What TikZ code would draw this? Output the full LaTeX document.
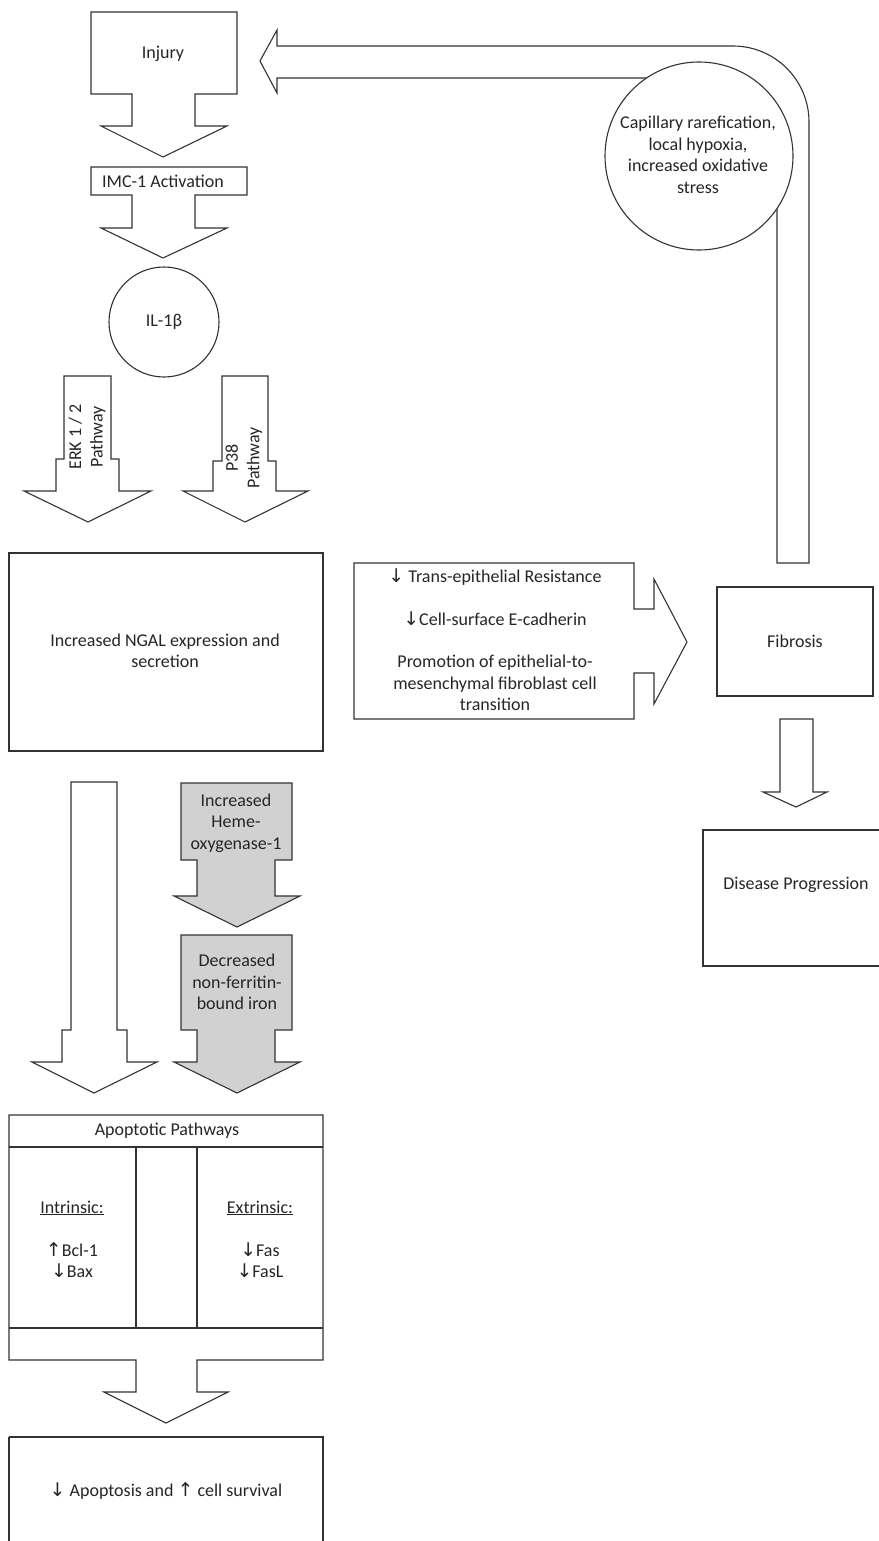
\documentclass[tikz,border=0pt]{standalone}
\usepackage{fontspec}
\setmainfont{Carlito}
\newfontfamily\symfont[Scale=1.05]{DejaVu Sans}
\newcommand{\dnarr}{{\symfont ↓}}
\newcommand{\uparr}{{\symfont ↑}}

\tikzset{
  blk/.style={draw=black!80, line width=1.1pt, line join=miter, fill=white},
  grayblk/.style={blk, fill=black!18},
  lbl/.style={font=\fontsize{18}{21.5}\selectfont, text=black!85, align=center, inner sep=0pt},
}

\begin{document}
\begin{tikzpicture}[x=1pt, y=-1pt]
\useasboundingbox (0,0) rectangle (878,1541);
\fill[white] (0,0) rectangle (878,1541);

% ---- feedback arrow bending from the right column back to Injury
\draw[blk] (260,61) -- (277,30) -- (277,46) -- (733,46)
  arc[start angle=-90, end angle=0, radius=76] -- (809,563) -- (777,563) -- (777,122)
  arc[start angle=0, end angle=-90, radius=44] -- (277,78) -- (277,93) -- cycle;
\draw[blk] (699,156) circle[radius=94];
\node[lbl] (capillary) at (698,155) {Capillary rarefication,\\local hypoxia,\\increased oxidative\\stress};

% ---- Injury callout
\draw[blk] (91,12) -- (237,12) -- (237,94) -- (195,94) -- (195,126) -- (227,126) -- (163,157)
  -- (101,126) -- (132,126) -- (132,94) -- (91,94) -- cycle;
\node[lbl] (injury) at (163,54) {Injury};

% ---- IMC-1 Activation callout
\draw[blk] (91,167) -- (247,167) -- (247,195) -- (195,195) -- (195,228) -- (227,228) -- (163,258)
  -- (101,228) -- (132,228) -- (132,195) -- (91,195) -- cycle;
\node[lbl] (imc) at (163,181) {IMC-1 Activation};

% ---- IL-1 beta
\draw[blk] (164,322) circle[radius=55];
\node[lbl] (il1b) at (164,322) {IL-1β};

% ---- ERK 1/2 pathway arrow
\draw[blk] (64,376) -- (111,376) -- (111,459) -- (119,459) -- (119,491) -- (151,491) -- (88,522)
  -- (24,491) -- (56,491) -- (56,459) -- (64,459) -- cycle;
\node[lbl, rotate=90] (erk) at (87,437) {ERK 1 / 2\\Pathway};

% ---- P38 pathway arrow
\draw[blk] (222,376) -- (268,376) -- (268,461) -- (276,461) -- (276,491) -- (308,491) -- (245,522)
  -- (183,491) -- (213,491) -- (213,461) -- (222,461) -- cycle;
\node[lbl, rotate=90] (p38) at (244,458) {P38\\Pathway};

% ---- NGAL box
\draw[blk] (9,553) rectangle (323,751);
\node[lbl] (ngal) at (165,651) {Increased NGAL expression and\\secretion};

% ---- effects callout pointing to Fibrosis
\draw[blk] (354,563) -- (634,563) -- (634,609) -- (654,609) -- (654,579) -- (687,642)
  -- (654,704) -- (654,673) -- (634,673) -- (634,719) -- (354,719) -- cycle;
\node[lbl] (ter) at (495,577) {\dnarr\ Trans-epithelial Resistance};
\node[lbl] (ecad) at (495,619) {\dnarr Cell-surface E-cadherin};
\node[lbl] (emt) at (495,683) {Promotion of epithelial-to-\\mesenchymal fibroblast cell\\transition};

% ---- Fibrosis and Disease Progression
\draw[blk] (717,587) rectangle (873,696);
\node[lbl] (fibrosis) at (795,641) {Fibrosis};
\draw[blk] (780,719) -- (813,719) -- (813,792) -- (827,792) -- (796,807) -- (763,792)
  -- (780,792) -- cycle;
\draw[blk] (703,830) rectangle (895,966);
\node[lbl] (progression) at (796,885) {Disease Progression};

% ---- long arrow from NGAL to the apoptotic pathways
\draw[blk] (71,782) -- (117,782) -- (117,1030) -- (127,1030) -- (127,1062) -- (157,1062) -- (94,1093)
  -- (32,1062) -- (62,1062) -- (62,1030) -- (71,1030) -- cycle;

% ---- grey iron branch
\draw[grayblk] (181,783) -- (292,783) -- (292,860) -- (275,860) -- (275,896) -- (300,896) -- (237,927)
  -- (174,896) -- (197,896) -- (197,860) -- (181,860) -- cycle;
\node[lbl] (ho1) at (236,823) {Increased\\Heme-\\oxygenase-1};
\draw[grayblk] (181,935) -- (292,935) -- (292,1030) -- (275,1030) -- (275,1062) -- (300,1062) -- (237,1093)
  -- (174,1062) -- (197,1062) -- (197,1030) -- (181,1030) -- cycle;
\node[lbl] (iron) at (237,982) {Decreased\\non-ferritin-\\bound iron};

% ---- apoptotic pathways table callout
\draw[blk] (9,1115) -- (323,1115) -- (323,1360) -- (197,1360) -- (197,1392) -- (228,1392) -- (166,1423)
  -- (104,1392) -- (136,1392) -- (136,1360) -- (9,1360) -- cycle;
\draw[blk] (9,1147) -- (323,1147);
\draw[blk] (9,1328) -- (323,1328);
\draw[blk] (136,1147) -- (136,1328);
\draw[blk] (197,1147) -- (197,1328);
\node[lbl] (apo) at (167,1131) {Apoptotic Pathways};
\node[lbl] (intr) at (72,1208) {\underline{Intrinsic:}};
\node[lbl] (intrl) at (72,1260) {\uparr Bcl-1\\\dnarr Bax};
\node[lbl] (extr) at (260,1208) {\underline{Extrinsic:}};
\node[lbl] (extrl) at (260,1260) {\dnarr Fas\\\dnarr FasL};

% ---- outcome
\draw[blk] (9,1437) -- (9,1560) (9,1437) -- (323,1437) -- (323,1560);
\node[lbl] (outcome) at (166,1491) {\dnarr\ Apoptosis and \uparr\ cell survival};
\end{tikzpicture}
\end{document}
